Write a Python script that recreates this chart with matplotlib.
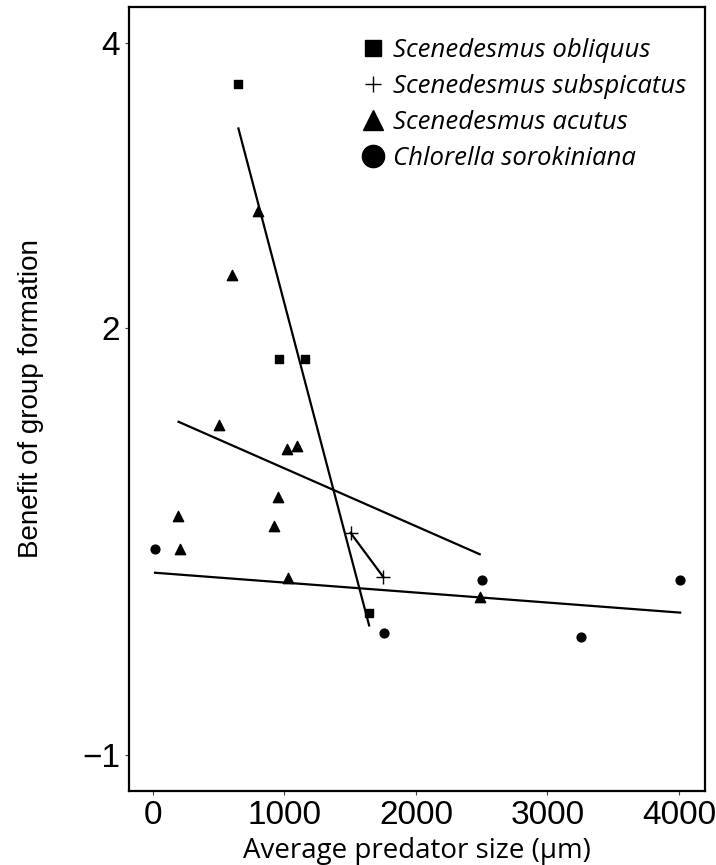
# Benefit of group formation vs average predator size
import matplotlib
matplotlib.use("Agg")
import matplotlib.pyplot as plt
from matplotlib.lines import Line2D

# Data
sq_x = [650, 956, 1160, 1644]
sq_y = [3.71, 1.78, 1.78, 0.0]
plus_x = [1503, 1752]
plus_y = [0.56, 0.25]
tri_x = [504, 603, 801, 1019, 1093, 953, 189, 917, 202, 1024, 2485]
tri_y = [1.32, 2.37, 2.82, 1.15, 1.17, 0.81, 0.68, 0.61, 0.45, 0.24, 0.11]
circ_x = [13, 1755, 2506, 3255, 4009]
circ_y = [0.45, -0.14, 0.23, -0.17, 0.23]

# regression lines (end points)
sq_line_x = [650, 1644]
sq_line_y = [3.40, -0.09]
tri_line_x = [195, 2485]
tri_line_y = [1.34, 0.41]
circ_line_x = [16, 4009]
circ_line_y = [0.28, 0.0]

species = ["Scenedesmus obliquus", "Scenedesmus subspicatus",
           "Scenedesmus acutus", "Chlorella sorokiniana"]
yticks = [-1, 2, 4]
xticks = [0, 1000, 2000, 3000, 4000]

fig = plt.figure(figsize=(7.16, 8.65), dpi=100)
ax = fig.add_axes([0.180, 0.0855, 0.8046, 0.9064])

lw = 1.6
ax.plot(sq_line_x, sq_line_y, color="black", lw=lw)
ax.plot(tri_line_x, tri_line_y, color="black", lw=lw)
ax.plot(circ_line_x, circ_line_y, color="black", lw=lw)
ax.plot(plus_x, plus_y, color="black", lw=lw)

ax.scatter(sq_x, sq_y, marker="s", s=40, color="black", zorder=3)
ax.scatter(plus_x, plus_y, marker="+", s=90, color="black", linewidths=1.0, zorder=3)
ax.scatter(tri_x, tri_y, marker="^", s=55, color="black", zorder=3)
ax.scatter(circ_x, circ_y, marker="o", s=40, color="black", zorder=3)

ax.set_xlim(-183, 4198)
ax.set_ylim(-1.253, 4.253)
ax.set_xticks(xticks)
ax.set_yticks(yticks)
ax.set_yticklabels(["\u22121", "2", "4"])
ax.tick_params(length=3, width=0.8, color="#444444", labelsize=24)
for lab in ax.get_xticklabels() + ax.get_yticklabels():
    lab.set_family("Liberation Sans")
for sp in ax.spines.values():
    sp.set_linewidth(1.6)

ax.set_xlabel("Average predator size (\u03bcm)", fontsize=20, family="Open Sans", labelpad=4)
ax.set_ylabel("Benefit of group formation", fontsize=20, family="Liberation Sans", labelpad=27)

handles = [
    Line2D([], [], ls="none", marker="s", ms=11, color="black"),
    Line2D([], [], ls="none", marker="+", ms=11, mew=1.0, color="black"),
    Line2D([], [], ls="none", marker="^", ms=15, color="black"),
    Line2D([], [], ls="none", marker="o", ms=16, color="black"),
]
leg = ax.legend(handles, species, loc="upper left", bbox_to_anchor=(0.38, 0.983),
                frameon=False, handlelength=0.6, handletextpad=0.45,
                labelspacing=0.42, borderpad=0.2,
                prop={"family": "Open Sans", "style": "italic", "size": 18.5})

fig.savefig("out.png", dpi=100)
